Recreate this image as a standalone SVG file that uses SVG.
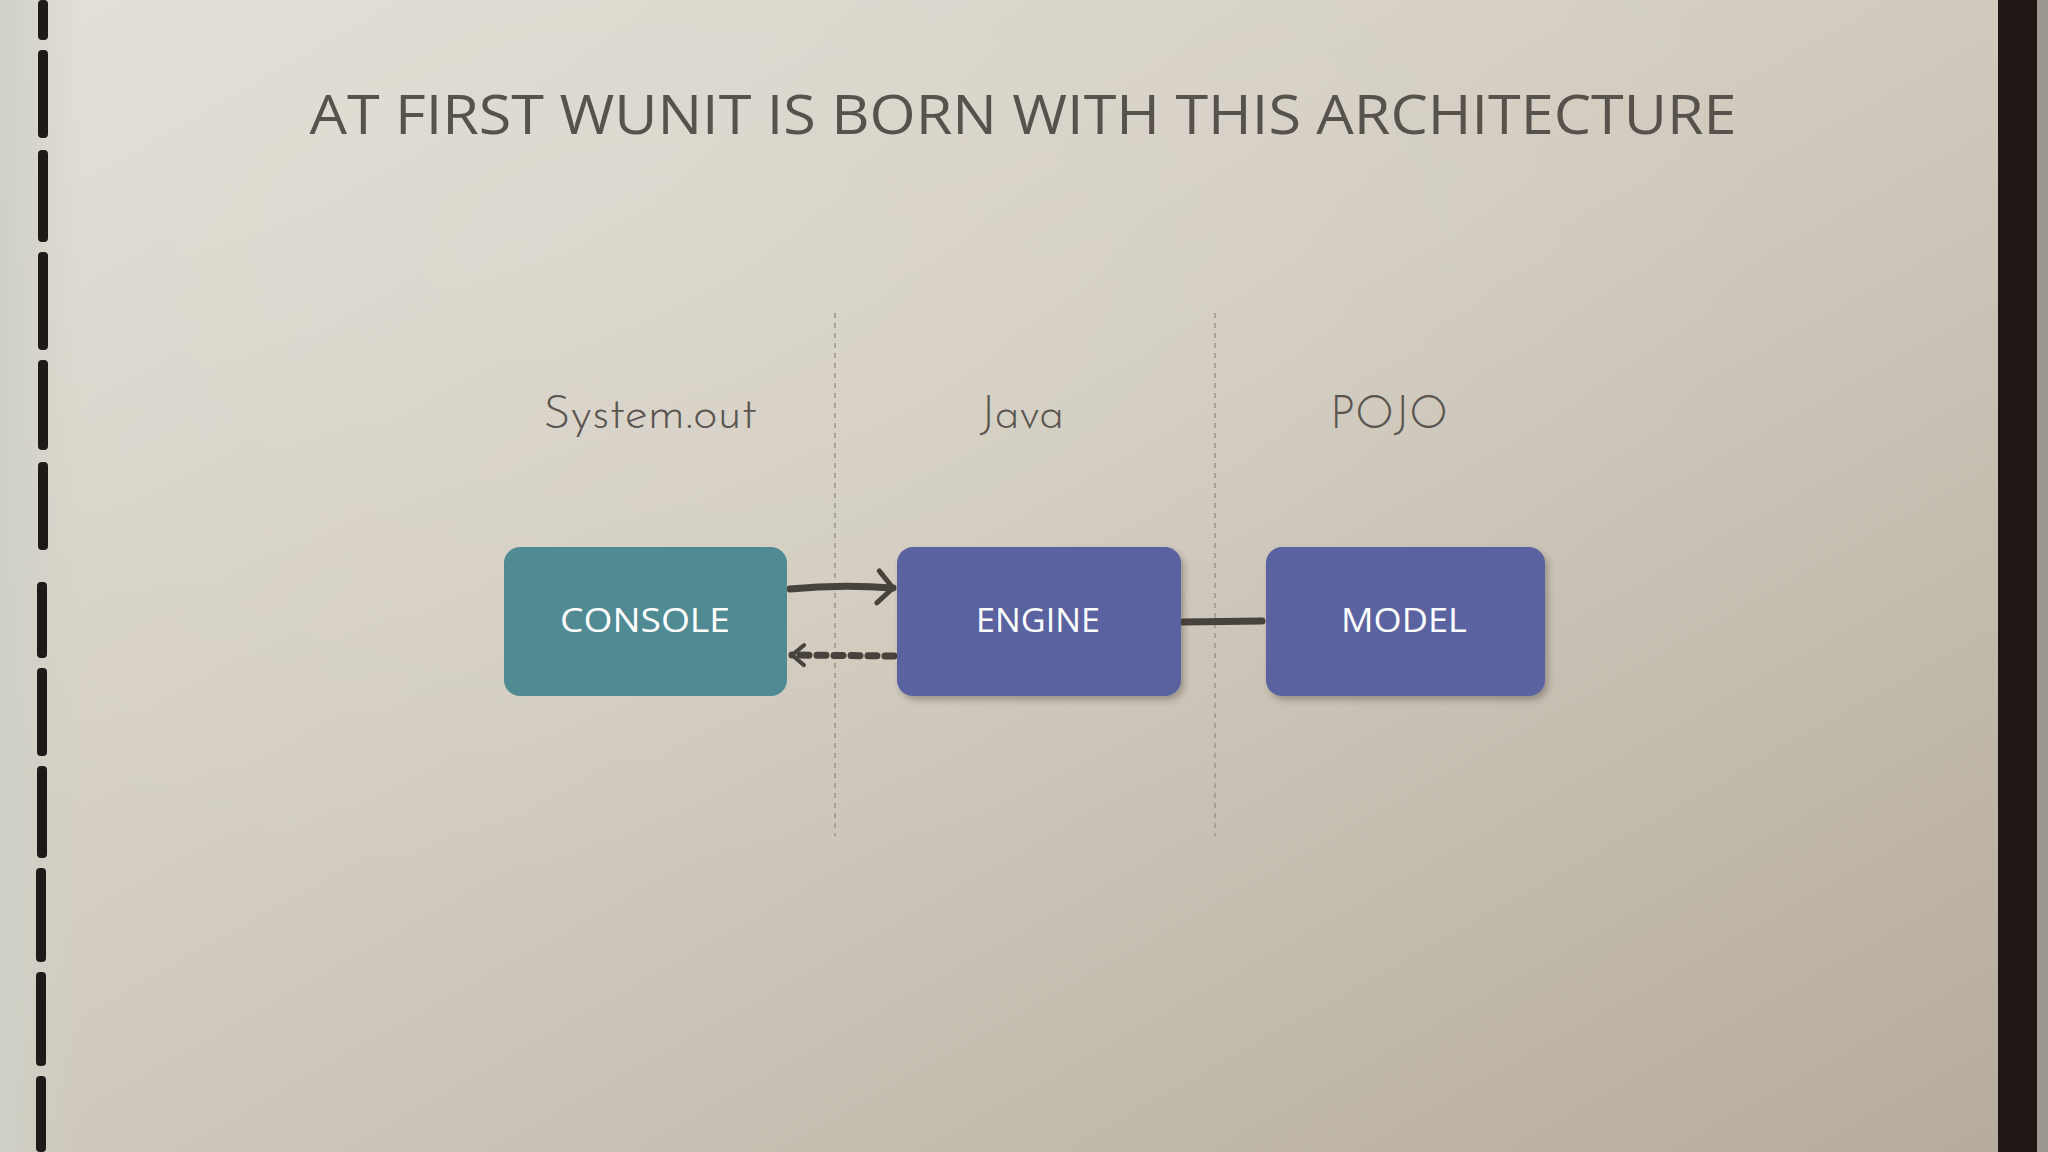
<svg xmlns="http://www.w3.org/2000/svg" width="2048" height="1152" viewBox="0 0 2048 1152">
<defs>
<linearGradient id="paper" x1="0" y1="0" x2="1" y2="1">
<stop offset="0" stop-color="#e2ded5"/>
<stop offset="0.45" stop-color="#d2ccc0"/>
<stop offset="1" stop-color="#b5ab9d"/>
</linearGradient>
<radialGradient id="glow" cx="0.3" cy="0.2" r="0.6">
<stop offset="0" stop-color="#ffffff" stop-opacity="0.1"/>
<stop offset="1" stop-color="#ffffff" stop-opacity="0"/>
</radialGradient>
<linearGradient id="leftedge" x1="0" y1="0" x2="1" y2="0">
<stop offset="0" stop-color="#cfd0c6"/>
<stop offset="1" stop-color="#cfd0c6" stop-opacity="0"/>
</linearGradient>
<filter id="shadow" x="-10%" y="-10%" width="125%" height="130%">
<feDropShadow dx="3" dy="4" stdDeviation="3" flood-color="#3a342c" flood-opacity="0.35"/>
</filter>
<marker id="chev" viewBox="0 0 24 40" refX="20" refY="20" markerWidth="24" markerHeight="40" markerUnits="userSpaceOnUse" orient="auto">
<path d="M5,4 L20,20 L5,36" fill="none" stroke="#47423c" stroke-width="5" stroke-linecap="round" stroke-linejoin="round"/>
</marker>
<marker id="chevs" viewBox="0 0 20 28" refX="17" refY="14" markerWidth="20" markerHeight="28" markerUnits="userSpaceOnUse" orient="auto">
<path d="M5,4 L17,14 L5,24" fill="none" stroke="#47423c" stroke-width="4" stroke-linecap="round" stroke-linejoin="round"/>
</marker>
</defs>
<style>
.title{font-family:"Open Sans","DejaVu Sans Condensed",sans-serif;font-weight:400;font-size:54px;fill:#58524c;}
.head{font-family:"Josefin Sans","Lato","Open Sans",sans-serif;font-weight:300;font-size:46px;fill:#5a554f;}
.lbl{font-family:"Open Sans","DejaVu Sans Condensed",sans-serif;font-weight:400;font-size:32px;fill:#ffffff;}
.sep{stroke:#9b958c;stroke-width:1.5;stroke-dasharray:5 5;fill:none;}
.conn{stroke:#47423c;stroke-width:7;stroke-linecap:round;fill:none;}
.stitch{fill:#1e1a17;}
</style>
<rect width="2048" height="1152" fill="url(#paper)"/>
<rect width="2048" height="1152" fill="url(#glow)"/>
<rect x="0" y="0" width="80" height="1152" fill="url(#leftedge)"/>
<g id="stitches">
<rect class="stitch" x="38" y="0" width="10" height="40" rx="4"/>
<rect class="stitch" x="38" y="50" width="10" height="88" rx="4"/>
<rect class="stitch" x="38" y="150" width="10" height="92" rx="4"/>
<rect class="stitch" x="38" y="252" width="10" height="98" rx="4"/>
<rect class="stitch" x="38" y="360" width="10" height="90" rx="4"/>
<rect class="stitch" x="38" y="462" width="10" height="88" rx="4"/>
<rect class="stitch" x="37" y="582" width="10" height="76" rx="4"/>
<rect class="stitch" x="37" y="668" width="10" height="88" rx="4"/>
<rect class="stitch" x="37" y="766" width="10" height="92" rx="4"/>
<rect class="stitch" x="36" y="868" width="10" height="94" rx="4"/>
<rect class="stitch" x="36" y="972" width="10" height="94" rx="4"/>
<rect class="stitch" x="36" y="1076" width="10" height="76" rx="4"/>
</g>
<g id="rightbar">
<rect x="1998" y="0" width="39" height="1152" fill="#1e1714"/>
<rect x="2037" y="0" width="11" height="1152" fill="#9c978f"/>
</g>
<text class="title" x="1023" y="134" text-anchor="middle" textLength="1427" lengthAdjust="spacingAndGlyphs">AT FIRST WUNIT IS BORN WITH THIS ARCHITECTURE</text>
<g id="headers">
<text class="head" x="650" y="428" text-anchor="middle" textLength="214" lengthAdjust="spacingAndGlyphs">System.out</text>
<text class="head" x="1022" y="428" text-anchor="middle" textLength="84" lengthAdjust="spacingAndGlyphs">Java</text>
<text class="head" x="1389" y="428" text-anchor="middle" textLength="118" lengthAdjust="spacingAndGlyphs">POJO</text>
</g>
<g id="separators">
<line class="sep" x1="835" y1="313" x2="835" y2="836"/>
<line class="sep" x1="1215" y1="313" x2="1215" y2="836"/>
</g>
<g id="connectors">
<path class="conn" d="M790,589 Q840,584 893,588" marker-end="url(#chev)"/>
<path class="conn" d="M894,656 L792,655" stroke-width="5" stroke-dasharray="9 8" stroke-linecap="butt" marker-end="url(#chevs)"/>
<path class="conn" d="M1183,622 L1262,621" stroke-width="8"/>
</g>
<g id="console">
<rect x="504" y="547" width="283" height="149" rx="16" fill="#508a93"/>
<text class="lbl" x="645" y="632" text-anchor="middle" textLength="170" lengthAdjust="spacingAndGlyphs">CONSOLE</text>
</g>
<g id="engine">
<rect x="897" y="547" width="284" height="149" rx="16" fill="#5a63a0" filter="url(#shadow)"/>
<text class="lbl" x="1038" y="632" text-anchor="middle" textLength="124" lengthAdjust="spacingAndGlyphs">ENGINE</text>
</g>
<g id="model">
<rect x="1266" y="547" width="279" height="149" rx="16" fill="#5a63a0" filter="url(#shadow)"/>
<text class="lbl" x="1404" y="632" text-anchor="middle" textLength="126" lengthAdjust="spacingAndGlyphs">MODEL</text>
</g>
</svg>
